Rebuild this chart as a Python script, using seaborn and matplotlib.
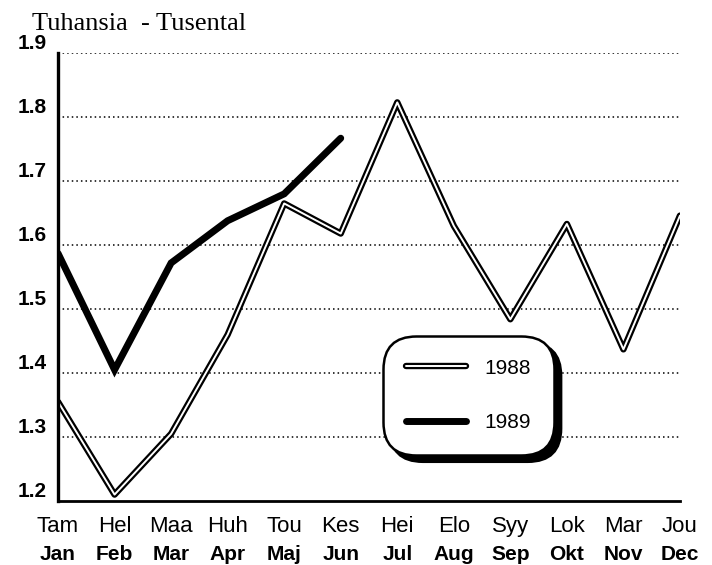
import numpy as np
import pandas as pd
import matplotlib
matplotlib.use('Agg')
import matplotlib.pyplot as plt
import matplotlib.patheffects as pe
import seaborn as sns

sns.set_style('white')
plt.rcParams['font.family'] = ['Liberation Sans', 'DejaVu Sans']
plt.rcParams['text.color'] = 'black'

# data
months_fi = ['Tam', 'Hel', 'Maa', 'Huh', 'Tou', 'Kes', 'Hei', 'Elo', 'Syy', 'Lok', 'Mar', 'Jou']
months_sv = ['Jan', 'Feb', 'Mar', 'Apr', 'Maj', 'Jun', 'Jul', 'Aug', 'Sep', 'Okt', 'Nov', 'Dec']
v1988 = [1.355, 1.21, 1.305, 1.46, 1.665, 1.618, 1.823, 1.63, 1.484, 1.633, 1.437, 1.646]
v1989 = [1.587, 1.405, 1.572, 1.638, 1.68, 1.767]

df88 = pd.DataFrame({'m': np.arange(len(v1988)), 'v': v1988})
df89 = pd.DataFrame({'m': np.arange(len(v1989)), 'v': v1989})

fig = plt.figure(figsize=(7.12, 5.65), dpi=100)
ax = fig.add_axes([0.0815, 0.1133, 0.8735, 0.7927])

sns.lineplot(data=df88, x='m', y='v', ax=ax, color='white', lw=1.4, label='1988',
             path_effects=[pe.Stroke(linewidth=4.6, foreground='black'), pe.Normal()])
sns.lineplot(data=df89, x='m', y='v', ax=ax, color='black', lw=5, label='1989',
             solid_capstyle='round', solid_joinstyle='miter')

ax.set_xlim(0, 11)
ax.set_ylim(1.2, 1.9)
ax.set_yticks([1.2, 1.3, 1.4, 1.5, 1.6, 1.7, 1.8, 1.9])
ax.set_yticklabels(['1.2', '1.3', '1.4', '1.5', '1.6', '1.7', '1.8', '1.9'],
                   fontsize=15, fontweight='bold')
for lab in ax.get_yticklabels():
    lab.set_va('bottom')
ax.set_xticks(np.arange(12))
ax.set_xticklabels(months_fi, fontsize=16)
for i, m in enumerate(months_sv):
    ax.text(i, -0.098, m, transform=ax.get_xaxis_transform(), ha='center', va='top',
            fontsize=15, fontweight='bold', color='black')

ax.set_xlabel('')
ax.set_ylabel('')
ax.yaxis.grid(True, linestyle=(0, (1, 2)), color='black', lw=1.1)
ax.xaxis.grid(False)
for g in ax.get_ygridlines()[:1]:
    g.set_visible(False)

for s in ['top', 'right']:
    ax.spines[s].set_visible(False)
ax.spines['left'].set_linewidth(2.4)
ax.spines['bottom'].set_linewidth(2.0)
ax.spines['left'].set_color('black')
ax.spines['bottom'].set_color('black')
ax.tick_params(axis='x', direction='out', length=6, width=1.5, color='black', pad=5, labelcolor='black')
ax.tick_params(axis='y', direction='out', length=4, width=1.5, color='black', pad=4, labelcolor='black')

fig.text(32 / 712, 1 - 30 / 565, 'Tuhansia  - Tusental', family='Liberation Serif', fontsize=19,
         ha='left', va='baseline', color='black')

leg = ax.legend(loc='lower left', bbox_to_anchor=(0.522, 0.103), frameon=True,
                fontsize=15, handlelength=2.9, handletextpad=0.9, labelspacing=1.7,
                borderpad=1.1, borderaxespad=0, fancybox=True,
                shadow={'color': 'black', 'alpha': 1, 'ox': 5, 'oy': -5})
for t in leg.get_texts():
    t.set_color('black')
frame = leg.get_frame()
frame.set_edgecolor('black')
frame.set_linewidth(1.8)
frame.set_facecolor('white')
frame.set_alpha(1)
frame.set_boxstyle('round,pad=0,rounding_size=1.6')

fig.savefig('out.png', dpi=100)
